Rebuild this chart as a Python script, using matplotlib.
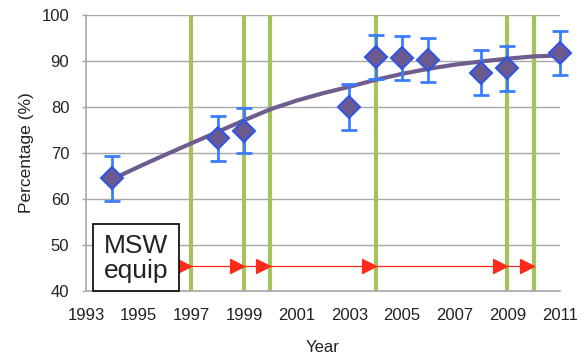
import matplotlib
matplotlib.use("Agg")
import matplotlib.pyplot as plt
from matplotlib.patches import Rectangle

plt.rcParams['font.family'] = ['Liberation Sans', 'DejaVu Sans']

# survey points (year, percentage, +/- error)
years = [1994, 1998, 1999, 2003, 2004, 2005, 2006, 2008, 2009, 2011]
pct = [64.5, 73.2, 74.8, 80.1, 90.9, 90.6, 90.2, 87.5, 88.4, 91.7]
err = [4.9, 4.9, 4.9, 5.0, 4.8, 4.8, 4.8, 4.9, 4.9, 4.8]

# trend line
trend_years = [1994, 1995, 1996, 1997, 1998, 1999, 2000, 2001, 2002, 2003,
               2004, 2005, 2006, 2007, 2008, 2009, 2010, 2011]
trend_vals = [64.3, 67.0, 69.6, 72.1, 74.6, 77.1, 79.5, 81.4, 83.0, 84.4,
              85.9, 87.2, 88.3, 89.2, 89.9, 90.5, 91.0, 91.2]

# MSW equipment change years
equip_years = [1997, 1999, 2000, 2004, 2009, 2010]
arrow_level = 45.5
arrow_start = 1996.47

xticks = list(range(1993, 2012, 2))
yticks = list(range(40, 101, 10))

TEXT = '#222222'
GRID = '#a8a8a8'

fig = plt.figure(figsize=(5.84, 3.54), dpi=100)
ax = fig.add_axes([86 / 584, 1 - 291 / 354, 474 / 584, 276 / 354])

ax.set_xlim(1993, 2011)
ax.set_ylim(40, 100)

# horizontal grid
for y in yticks:
    ax.axhline(y, color=GRID, lw=1.0, zorder=0.5)

# equipment change markers
for yr in equip_years:
    ax.axvline(yr, color='#a6c15f', lw=3.0, zorder=1)

ax.plot([arrow_start, equip_years[-1]], [arrow_level, arrow_level],
        color='#ff2a1a', lw=0.9, zorder=2)
tri = [(0, 0), (-1, 0.5), (-1, -0.5), (0, 0)]
ax.plot(equip_years, [arrow_level] * len(equip_years), ls='none',
        marker=tri, ms=20, color='#ff2a1a', mec='#ff2a1a', zorder=2.5)

# trend
ax.plot(trend_years, trend_vals, color='#6f5d8e', lw=3.0,
        solid_capstyle='butt', zorder=3)

# data with error bars
eb = ax.errorbar(years, pct, yerr=err, fmt='none', ecolor='#3b7dff',
                 elinewidth=2.0, capsize=5.8, capthick=2.0, zorder=4)
for art in eb.lines[1] + eb.lines[2]:
    art.set_clip_on(False)
ax.plot(years, pct, ls='none', marker='D', ms=11, mfc='#6a5a8f',
        mec='#2f55e8', mew=1.5, zorder=5, clip_on=False)

# MSW equip box
ax.add_patch(Rectangle((0.0154, 0.0), 0.1815, 0.243, transform=ax.transAxes,
                       fc='white', ec='black', lw=1.2, zorder=6, clip_on=False))
ax.text(0.106, 0.118, 'MSW\nequip', transform=ax.transAxes, ha='center',
        va='center', fontsize=19, linespacing=1.05, color=TEXT, zorder=7)

ax.set_xticks(xticks)
ax.set_yticks(yticks)
ax.tick_params(axis='x', length=0, pad=12, labelsize=12, labelcolor=TEXT)
ax.tick_params(axis='y', length=3, width=1, color=GRID, pad=9,
               labelsize=12, labelcolor=TEXT)

for side in ['top', 'right']:
    ax.spines[side].set_visible(False)
for side in ['left', 'bottom']:
    ax.spines[side].set_color(GRID)
    ax.spines[side].set_linewidth(1.2)

ax.set_xlabel('Year', fontsize=12, color=TEXT)
ax.xaxis.set_label_coords(0.5, -0.178)
ax.set_ylabel('Percentage (%)', fontsize=12.5, color=TEXT)
ax.yaxis.set_label_coords(-0.11, 0.5)

fig.savefig('out.png', dpi=100)
